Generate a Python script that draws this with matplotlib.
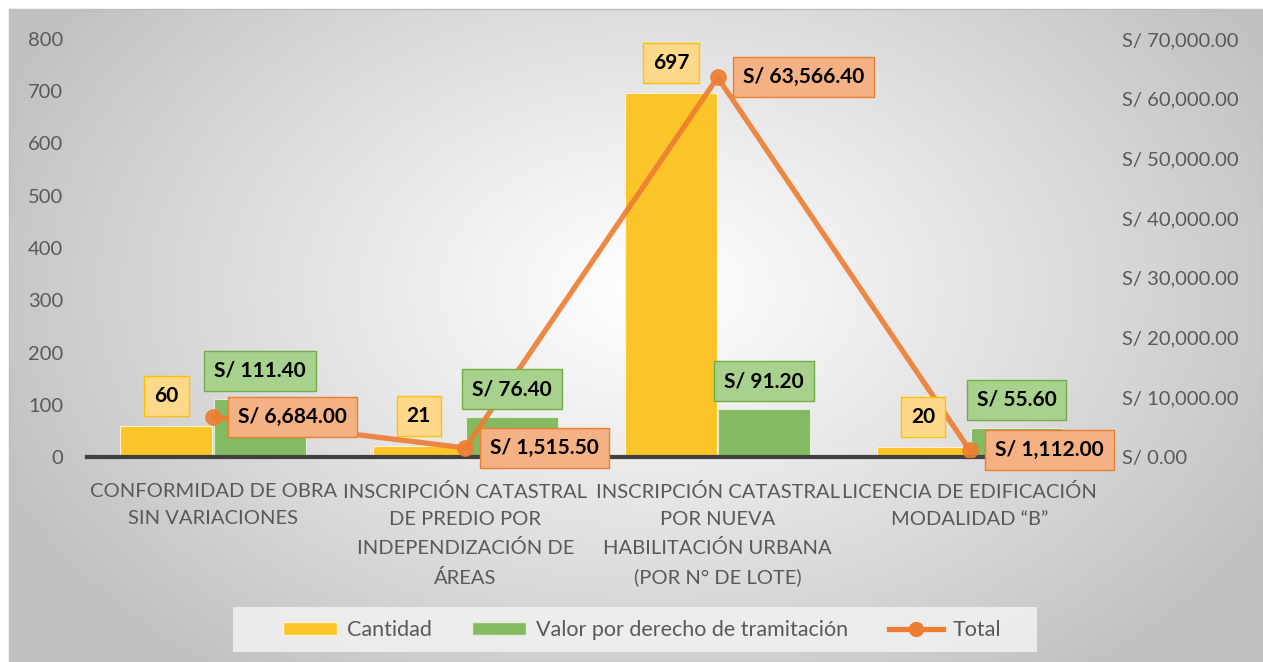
import numpy as np
import matplotlib
matplotlib.use('Agg')
import matplotlib.pyplot as plt
from matplotlib.patches import Patch, Rectangle
from matplotlib.lines import Line2D
from matplotlib.ticker import FuncFormatter, MultipleLocator

plt.rcParams['font.family'] = ['Lato', 'DejaVu Sans']

# data
categorias = ['CONFORMIDAD DE OBRA\nSIN VARIACIONES',
              'INSCRIPCIÓN CATASTRAL\nDE PREDIO POR\nINDEPENDIZACIÓN DE\nÁREAS',
              'INSCRIPCIÓN CATASTRAL\nPOR NUEVA\nHABILITACIÓN URBANA\n(POR N° DE LOTE)',
              'LICENCIA DE EDIFICACIÓN\nMODALIDAD “B”']
cantidad = [60, 21, 697, 20]
valor = [111.40, 76.40, 91.20, 55.60]
total = [6684.00, 1515.50, 63566.40, 1112.00]

amarillo = '#FBC52A'
verde = '#84BA62'
naranja = '#ED7D31'
gris_txt = '#595959'

W, H = 1263, 662
fig = plt.figure(figsize=(W / 100, H / 100), dpi=100)
fig.patch.set_facecolor('white')

# radial gradient background of the chart container
bg = fig.add_axes([9 / W, 0, 1 - 9 / W, 1 - 9 / H], zorder=-10)
yy, xx = np.mgrid[0:653, 0:1254]
d = np.sqrt(((xx - 640) / 700.0) ** 2 + ((yy - 280) / 480.0) ** 2)
d = np.clip(d, 0, 1)
shade = 1.0 - 0.24 * d ** 1.1
bg.imshow(np.dstack([shade] * 3), aspect='auto', extent=[0, 1, 0, 1])
bg.set_axis_off()
fig.add_artist(Rectangle((9 / W, 0), 1 - 9 / W, 1 - 9 / H, transform=fig.transFigure,
                         fill=False, edgecolor='#BFBFBF', lw=1))

ax = fig.add_axes([87 / W, 1 - 457 / H, (1096 - 87) / W, (457 - 39) / H])
ax.set_facecolor('none')
ax2 = ax.twinx()

x = np.arange(len(categorias))
w = 0.365
off = 0.185
ax.bar(x - off, cantidad, w, color=amarillo, edgecolor='#FFF2CC', lw=0.8, zorder=2)
ax.bar(x + off, valor, w, color=verde, edgecolor='#E2F0D9', lw=0.8, zorder=2)

ax.set_xlim(-0.5, 3.5)
ax.set_ylim(0, 800)
ax2.set_ylim(0, 70000)
ax.yaxis.set_major_locator(MultipleLocator(100))
ax2.yaxis.set_major_locator(MultipleLocator(10000))
ax2.yaxis.set_major_formatter(FuncFormatter(lambda v, p: 'S/ {:,.2f}'.format(v)))

ax.set_xticks(x)
ax.set_xticklabels(categorias, linespacing=1.75)
for a in (ax, ax2):
    for s in a.spines.values():
        s.set_visible(False)
    a.tick_params(length=0, labelsize=14.5, labelcolor=gris_txt)
ax.tick_params(axis='y', pad=17)
ax2.tick_params(axis='y', pad=19)
ax.tick_params(axis='x', pad=18.5)
ax.spines['bottom'].set_visible(True)
ax.spines['bottom'].set_color('#404040')
ax.spines['bottom'].set_linewidth(3)
ax.spines['bottom'].set_zorder(3)

ax2.plot(x, total, color=naranja, lw=3.8, marker='o', ms=11, alpha=0.9, zorder=4)

# data labels
bkw = dict(fontsize=15, fontweight='bold', color='black', va='center')
for i in range(len(x)):
    ax2.annotate(str(cantidad[i]), xy=(x[i] - off, cantidad[i]), xycoords=ax.transData,
                 xytext=(0, 30), textcoords='offset pixels', ha='center', zorder=6,
                 bbox=dict(boxstyle='square,pad=0.48', fc='#FFD98A', ec='#FFC000', lw=1), **bkw)
    ax2.annotate('S/ {:,.2f}'.format(valor[i]), xy=(x[i] + off, valor[i]), xycoords=ax.transData,
                 xytext=(0, 28), textcoords='offset pixels', ha='center', zorder=6,
                 bbox=dict(boxstyle='square,pad=0.48', fc='#A9D18E', ec='#70AD47', lw=1), **bkw)
    ax2.annotate('S/ {:,.2f}'.format(total[i]), xy=(x[i], total[i]),
                 xytext=(25, 0), textcoords='offset pixels', ha='left', zorder=7,
                 bbox=dict(boxstyle='square,pad=0.48', fc='#F4B183', ec=naranja, lw=1), **bkw)

# legend background box
fig.add_artist(Rectangle((233 / W, 1 - 652 / H), (1037 - 233) / W, 45 / H,
                         transform=fig.transFigure, facecolor='#F2F2F2', alpha=0.85,
                         edgecolor='none', zorder=5))
handles = [Patch(facecolor=amarillo, edgecolor='#FFF2CC'),
           Patch(facecolor=verde, edgecolor='#E2F0D9'),
           Line2D([], [], color=naranja, lw=3.8, marker='o', ms=10)]
leg = fig.legend(handles, ['Cantidad', 'Valor por derecho de tramitación', 'Total'],
                 loc='center', bbox_to_anchor=(642 / W, 1 - 630 / H), ncol=3,
                 fontsize=15.5, frameon=False, handlelength=2.5,
                 handleheight=0.6, columnspacing=1.9, handletextpad=0.45,
                 borderaxespad=0)
leg.set_zorder(6)
for t in leg.get_texts():
    t.set_color(gris_txt)

fig.savefig('out.png', dpi=100)
